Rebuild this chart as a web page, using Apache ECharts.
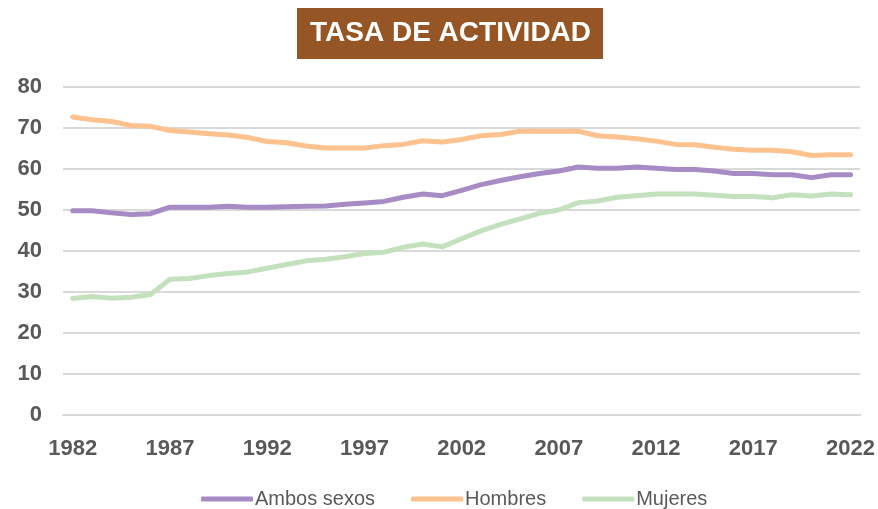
<!DOCTYPE html>
<html>
<head>
<meta charset="utf-8">
<script src="https://cdn.jsdelivr.net/npm/echarts@6/dist/echarts.min.js"></script>
<style>
html, body { margin: 0; padding: 0; background: #fff; }
#container { width: 878px; height: 509px; }
</style>
</head>
<body>
<div id="container"></div>
<script>
var years = [];
for (var y = 1982; y <= 2022; y++) years.push(String(y));

var ambosSexos = [49.8, 49.8, 49.3, 48.9, 49.1, 50.7, 50.7, 50.7, 50.9, 50.7,
    50.7, 50.8, 50.9, 51.0, 51.4, 51.7, 52.1, 53.1, 53.9, 53.5,
    54.8, 56.2, 57.2, 58.1, 58.9, 59.5, 60.5, 60.2, 60.2, 60.5,
    60.2, 59.9, 59.9, 59.5, 58.9, 58.9, 58.6, 58.6, 57.9, 58.6, 58.6];
var hombres = [72.7, 72.0, 71.6, 70.6, 70.4, 69.4, 69.0, 68.6, 68.3, 67.7,
    66.7, 66.4, 65.6, 65.1, 65.1, 65.1, 65.7, 66.0, 66.9, 66.6,
    67.2, 68.1, 68.4, 69.2, 69.2, 69.2, 69.2, 68.1, 67.8, 67.4,
    66.8, 66.0, 65.9, 65.3, 64.8, 64.6, 64.6, 64.2, 63.3, 63.5, 63.5];
var mujeres = [28.4, 28.9, 28.5, 28.7, 29.4, 33.1, 33.3, 34.0, 34.5, 34.9,
    35.8, 36.7, 37.6, 38.0, 38.6, 39.4, 39.7, 40.9, 41.7, 41.0,
    43.0, 44.9, 46.5, 47.8, 49.2, 50.0, 51.8, 52.2, 53.1, 53.5,
    53.9, 53.9, 53.9, 53.6, 53.3, 53.3, 53.0, 53.7, 53.4, 53.9, 53.7];

var dom = document.getElementById("container");
var myChart = echarts.init(dom);

function serie(name, data, color) {
    return {
        name: name,
        type: 'line',
        data: data,
        symbol: 'none',
        smooth: false,
        lineStyle: { width: 5, color: color, cap: 'round', join: 'round' },
        itemStyle: { color: color }
    };
}

var option = {
    animation: false,
    backgroundColor: '#ffffff',
    title: {
        text: 'TASA DE ACTIVIDAD',
        left: 297,
        top: 8,
        backgroundColor: '#955524',
        padding: [9, 12, 9, 13],
        textStyle: {
            color: '#ffffff',
            fontFamily: 'Liberation Sans',
            fontWeight: 'bold',
            fontSize: 28,
            lineHeight: 33
        }
    },
    legend: {
        top: 484,
        left: 196,
        itemWidth: 52,
        itemHeight: 5,
        itemGap: 36,
        icon: 'roundRect',
        textStyle: {
            color: '#595959',
            fontFamily: 'Liberation Sans',
            fontSize: 20,
            padding: [0, 0, 0, -3]
        },
        data: ['Ambos sexos', 'Hombres', 'Mujeres']
    },
    grid: {
        left: 63,
        right: 17,
        top: 87,
        bottom: 94,
        containLabel: false
    },
    xAxis: {
        type: 'category',
        data: years,
        boundaryGap: true,
        axisLine: { show: true, lineStyle: { color: '#d9d9d9', width: 2 } },
        axisTick: { show: false },
        axisLabel: {
            interval: 4,
            margin: 23,
            color: '#595959',
            fontFamily: 'Liberation Sans',
            fontWeight: 'bold',
            fontSize: 22
        }
    },
    yAxis: {
        type: 'value',
        min: 0,
        max: 80,
        interval: 10,
        axisLine: { show: false },
        axisTick: { show: false },
        splitLine: { lineStyle: { color: '#d9d9d9', width: 2 } },
        axisLabel: {
            margin: 21,
            color: '#595959',
            fontFamily: 'Liberation Sans',
            fontWeight: 'bold',
            fontSize: 22
        }
    },
    series: [
        serie('Ambos sexos', ambosSexos, '#a68bc5'),
        serie('Hombres', hombres, '#fdc28d'),
        serie('Mujeres', mujeres, '#c4e1bd')
    ]
};

myChart.setOption(option, true);
</script>
</body>
</html>
